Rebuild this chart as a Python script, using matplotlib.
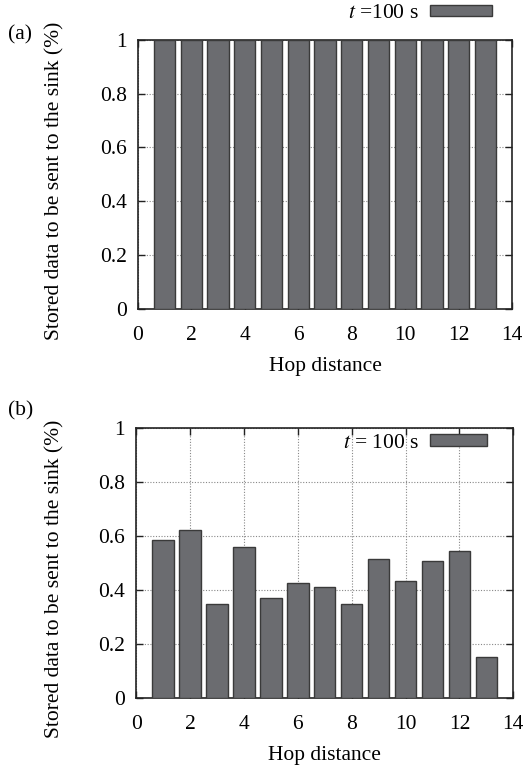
import matplotlib
matplotlib.use("Agg")
import matplotlib.pyplot as plt
from matplotlib.patches import Patch

hops = [1, 2, 3, 4, 5, 6, 7, 8, 9, 10, 11, 12, 13]
stored_a = [1, 1, 1, 1, 1, 1, 1, 1, 1, 1, 1, 1, 1]
stored_b = [0.585, 0.622, 0.348, 0.558, 0.369, 0.425, 0.41, 0.348,
            0.516, 0.432, 0.507, 0.546, 0.153]
xticks = [0, 2, 4, 6, 8, 10, 12, 14]
yticks = [0, 0.2, 0.4, 0.6, 0.8, 1]
ytick_labels = ["0", "0.2", "0.4", "0.6", "0.8", "1"]

plt.rcParams['font.family'] = ['Liberation Serif', 'DejaVu Serif']
plt.rcParams['mathtext.fontset'] = 'stix'
FS = 15.5
BAR = "#6b6c70"
EDGE = "#3a3a3a"

fig = plt.figure(figsize=(5.28, 7.65), dpi=100)
ax_a = fig.add_axes([0.261, 0.596, 0.709, 0.352])
ax_b = fig.add_axes([0.258, 0.0876, 0.714, 0.353])

def style(ax, values, legend_text, legend_anchor, hl, hh):
    ax.set_axisbelow(True)
    ax.grid(True, linestyle=(0, (1, 1.5)), color="#888888", linewidth=0.8)
    ax.bar(hops, values, width=0.8, color=BAR, edgecolor=EDGE, linewidth=1.0, zorder=3)
    ax.set_xlim(0, 14)
    ax.set_ylim(0, 1)
    ax.set_xticks(xticks)
    ax.set_yticks(yticks)
    ax.set_yticklabels(ytick_labels)
    ax.tick_params(direction="in", top=True, right=True, labelsize=FS,
                   length=5, width=1.0, color="#222222")
    ax.tick_params(axis="x", pad=12)
    ax.tick_params(axis="y", pad=8)
    for s in ax.spines.values():
        s.set_linewidth(1.2)
        s.set_color("#222222")
    ax.set_xlabel("Hop distance", fontsize=FS, labelpad=9)
    ax.set_ylabel("Stored data to be sent to the sink (%)", fontsize=FS)
    handle = Patch(facecolor=BAR, edgecolor=EDGE, linewidth=1.0)
    leg = ax.legend([handle], [legend_text], loc="center right", bbox_to_anchor=legend_anchor,
                    frameon=False, fontsize=FS, markerfirst=False,
                    handlelength=hl, handleheight=hh, handletextpad=0.5,
                    borderaxespad=0.0, borderpad=0.0)
    leg.set_zorder(5)
    return ax

style(ax_a, stored_a, r"$t$ =100 s", (0.947, 1.097), 2.9, 0.42)
style(ax_b, stored_b, r"$t$ = 100 s", (0.931, 0.943), 2.65, 0.5)

ax_a.yaxis.set_label_coords(-0.195, 0.476)
ax_b.yaxis.set_label_coords(-0.19, 0.44)

fig.text(0.015, 0.955, "(a)", fontsize=FS, ha="left", va="center")
fig.text(0.015, 0.463, "(b)", fontsize=FS, ha="left", va="center")

fig.savefig("out.png", dpi=100)
